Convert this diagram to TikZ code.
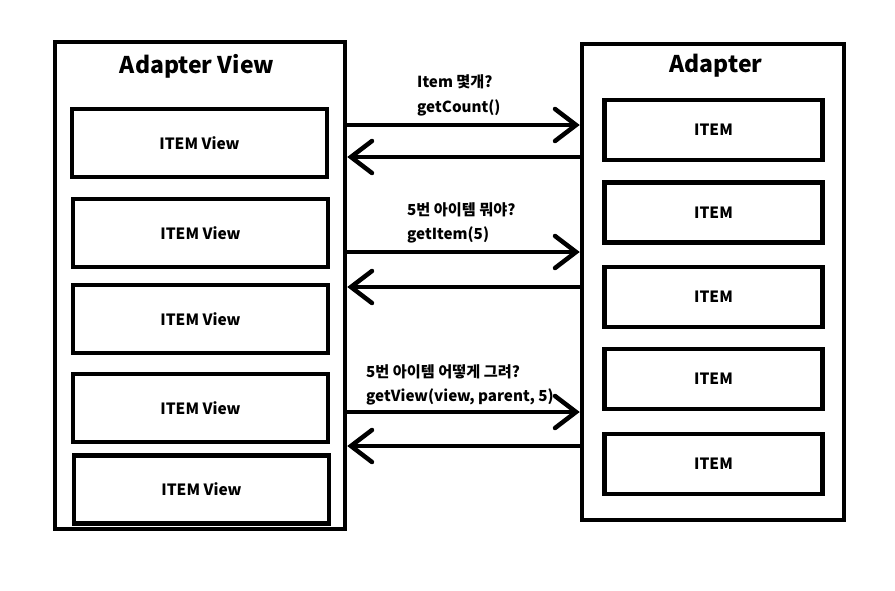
\documentclass[tikz,border=0pt]{standalone}
\usepackage{fontspec}
\setmainfont{Noto Sans CJK KR}
\usepackage{tikz}
\usetikzlibrary{arrows.meta}

\tikzset{
  frame/.style={draw, line width=4.5pt, inner sep=0pt},
  title/.style={font=\fontsize{23}{27}\selectfont\bfseries},
  itembox/.style={draw, line width=4.2pt, inner sep=0pt, font=\fontsize{15.5}{18}\selectfont\bfseries},
  lbl/.style={anchor=west, inner sep=0pt, font=\fontsize{15.2}{18}\selectfont\bfseries},
  conn/.style={line width=4.5pt, -{Straight Barb[length=21pt,width=32pt,line cap=round]}}
}

\begin{document}
\begin{tikzpicture}[x=1pt,y=-1pt]
  \useasboundingbox (0,0) rectangle (895,590);

  \node[frame, minimum width=290pt, minimum height=487pt] (view) at (200,285.5) {};
  \node[title] (viewtitle) at (197,66) {Adapter View};
  \node[frame, minimum width=262pt, minimum height=476pt] (adapter) at (713,282) {};
  \node[title] (adaptertitle) at (716,66) {Adapter};

  % item views
  \foreach \x/\y/\n in {199.5/143/1, 200.5/233/2, 200.5/319/3, 200.5/408/4, 201.5/489.5/5}
    \node[itembox, minimum width=255pt, minimum height=68pt] (iv\n) at (\x,\y) {ITEM View};

  % items
  \foreach \y/\n in {130/1, 212.5/2, 297/3, 379/4, 464/5}
    \node[itembox, minimum width=218pt, minimum height=60pt] (it\n) at (713.5,\y) {ITEM};

  \draw[conn] (view.east |- 0,125) -- (adapter.west |- 0,125);
  \draw[conn] (adapter.west |- 0,157) -- (view.east |- 0,157);
  \draw[conn] (view.east |- 0,252) -- (adapter.west |- 0,252);
  \draw[conn] (adapter.west |- 0,287) -- (view.east |- 0,287);
  \draw[conn] (view.east |- 0,412) -- (adapter.west |- 0,412);
  \draw[conn] (adapter.west |- 0,446) -- (view.east |- 0,446);

  \node[lbl] (ask1) at (417,82) {Item 몇개?};
  \node[lbl] (call1) at (417,108) {getCount()};
  \node[lbl] (ask2) at (407,210) {5번 아이템 뭐야?};
  \node[lbl] (call2) at (407,235) {getItem(5)};
  \node[lbl] (ask3) at (366,372) {5번 아이템 어떻게 그려?};
  \node[lbl] (call3) at (366,397) {getView(view, parent, 5)};
\end{tikzpicture}
\end{document}
